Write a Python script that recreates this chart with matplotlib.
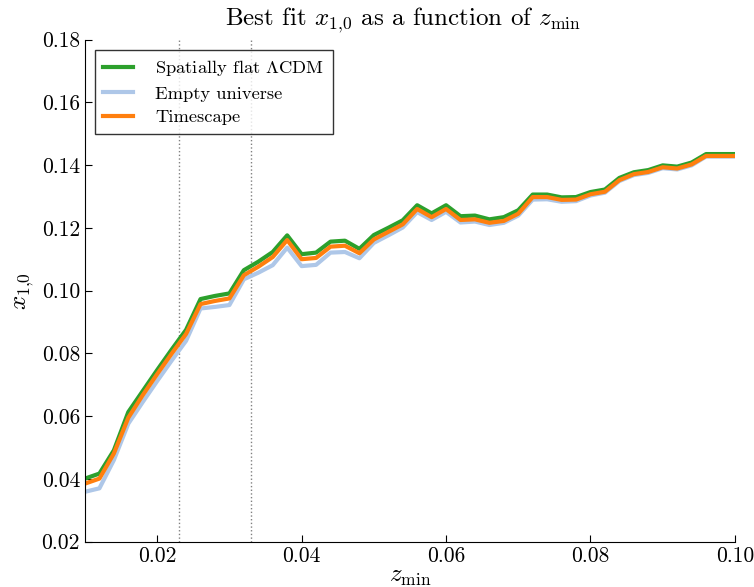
import matplotlib
matplotlib.use("Agg")
import matplotlib.pyplot as plt
from matplotlib.ticker import FormatStrFormatter

plt.rcParams["font.family"] = ["cmr10", "DejaVu Serif"]
plt.rcParams["mathtext.fontset"] = "cm"
plt.rcParams["axes.unicode_minus"] = False

# minimum redshift cut
z_min = [0.010, 0.012, 0.014, 0.016, 0.018, 0.020, 0.022, 0.024, 0.026, 0.028,
         0.030, 0.032, 0.034, 0.036, 0.038, 0.040, 0.042, 0.044, 0.046, 0.048,
         0.050, 0.052, 0.054, 0.056, 0.058, 0.060, 0.062, 0.064, 0.066, 0.068,
         0.070, 0.072, 0.074, 0.076, 0.078, 0.080, 0.082, 0.084, 0.086, 0.088,
         0.090, 0.092, 0.094, 0.096, 0.098, 0.100]

# best fit x_{1,0} for each model
x10_lcdm = [0.0401, 0.0417, 0.0491, 0.0613, 0.0680, 0.0747, 0.0812, 0.0875, 0.0973, 0.0983,
            0.0991, 0.1065, 0.1092, 0.1123, 0.1176, 0.1116, 0.1121, 0.1156, 0.1159, 0.1133,
            0.1177, 0.1200, 0.1224, 0.1272, 0.1246, 0.1272, 0.1237, 0.1239, 0.1227, 0.1234,
            0.1256, 0.1306, 0.1306, 0.1297, 0.1298, 0.1314, 0.1322, 0.1359, 0.1377, 0.1384,
            0.1399, 0.1395, 0.1408, 0.1435, 0.1435, 0.1435]
x10_empty = [0.0359, 0.0370, 0.0460, 0.0576, 0.0645, 0.0712, 0.0777, 0.0840, 0.0943, 0.0948,
             0.0954, 0.1036, 0.1057, 0.1081, 0.1137, 0.1078, 0.1082, 0.1121, 0.1123, 0.1103,
             0.1152, 0.1176, 0.1201, 0.1250, 0.1225, 0.1251, 0.1217, 0.1220, 0.1209, 0.1216,
             0.1239, 0.1290, 0.1291, 0.1283, 0.1285, 0.1303, 0.1312, 0.1349, 0.1368, 0.1375,
             0.1390, 0.1386, 0.1399, 0.1427, 0.1427, 0.1427]
x10_timescape = [0.0385, 0.0401, 0.0481, 0.0595, 0.0667, 0.0734, 0.0799, 0.0862, 0.0957, 0.0967,
                 0.0975, 0.1049, 0.1076, 0.1107, 0.1161, 0.1100, 0.1104, 0.1140, 0.1143, 0.1119,
                 0.1163, 0.1187, 0.1211, 0.1260, 0.1234, 0.1260, 0.1225, 0.1227, 0.1216, 0.1222,
                 0.1245, 0.1298, 0.1298, 0.1289, 0.1290, 0.1307, 0.1315, 0.1352, 0.1371, 0.1378,
                 0.1393, 0.1389, 0.1402, 0.1429, 0.1429, 0.1429]

# reference redshift cuts
z_cuts = [0.023, 0.033]

fig = plt.figure(figsize=(7.54, 5.87), dpi=100)
ax = fig.add_axes([0.1127, 0.0772, 0.862, 0.8555])

for zc in z_cuts:
    ax.axvline(zc, color="grey", linestyle=":", linewidth=1)

ax.plot(z_min, x10_lcdm, color="#2ca02c", lw=3, label=r"Spatially flat $\Lambda$CDM")
ax.plot(z_min, x10_empty, color="#aec7e8", lw=3, label="Empty universe")
ax.plot(z_min, x10_timescape, color="#ff7f0e", lw=3, label="Timescape")

ax.set_xlim(0.01, 0.10)
ax.set_ylim(0.02, 0.18)
ax.set_xticks([0.02, 0.04, 0.06, 0.08, 0.10])
ax.set_yticks([0.02, 0.04, 0.06, 0.08, 0.10, 0.12, 0.14, 0.16, 0.18])
ax.xaxis.set_major_formatter(FormatStrFormatter("%.2f"))
ax.yaxis.set_major_formatter(FormatStrFormatter("%.2f"))
ax.tick_params(direction="in", length=5, labelsize=15.5, top=False, right=False)
ax.spines["top"].set_visible(False)
ax.spines["right"].set_visible(False)

ax.set_title(r"Best fit $x_{1{,}0}$ as a function of $z_{\rm min}$", fontsize=18, pad=10, x=0.49)
ax.set_xlabel(r"$z_{\rm min}$", fontsize=18, labelpad=0)
ax.set_ylabel(r"$x_{1{,}0}$", fontsize=18)

leg = ax.legend(loc="upper left", fontsize=13.3, fancybox=False, handlelength=1.6,
                handletextpad=1.2, borderaxespad=0.55, labelspacing=0.42, borderpad=0.45)
leg.get_frame().set_edgecolor("black")
leg.get_frame().set_linewidth(1)

fig.savefig("out.png", dpi=100)
